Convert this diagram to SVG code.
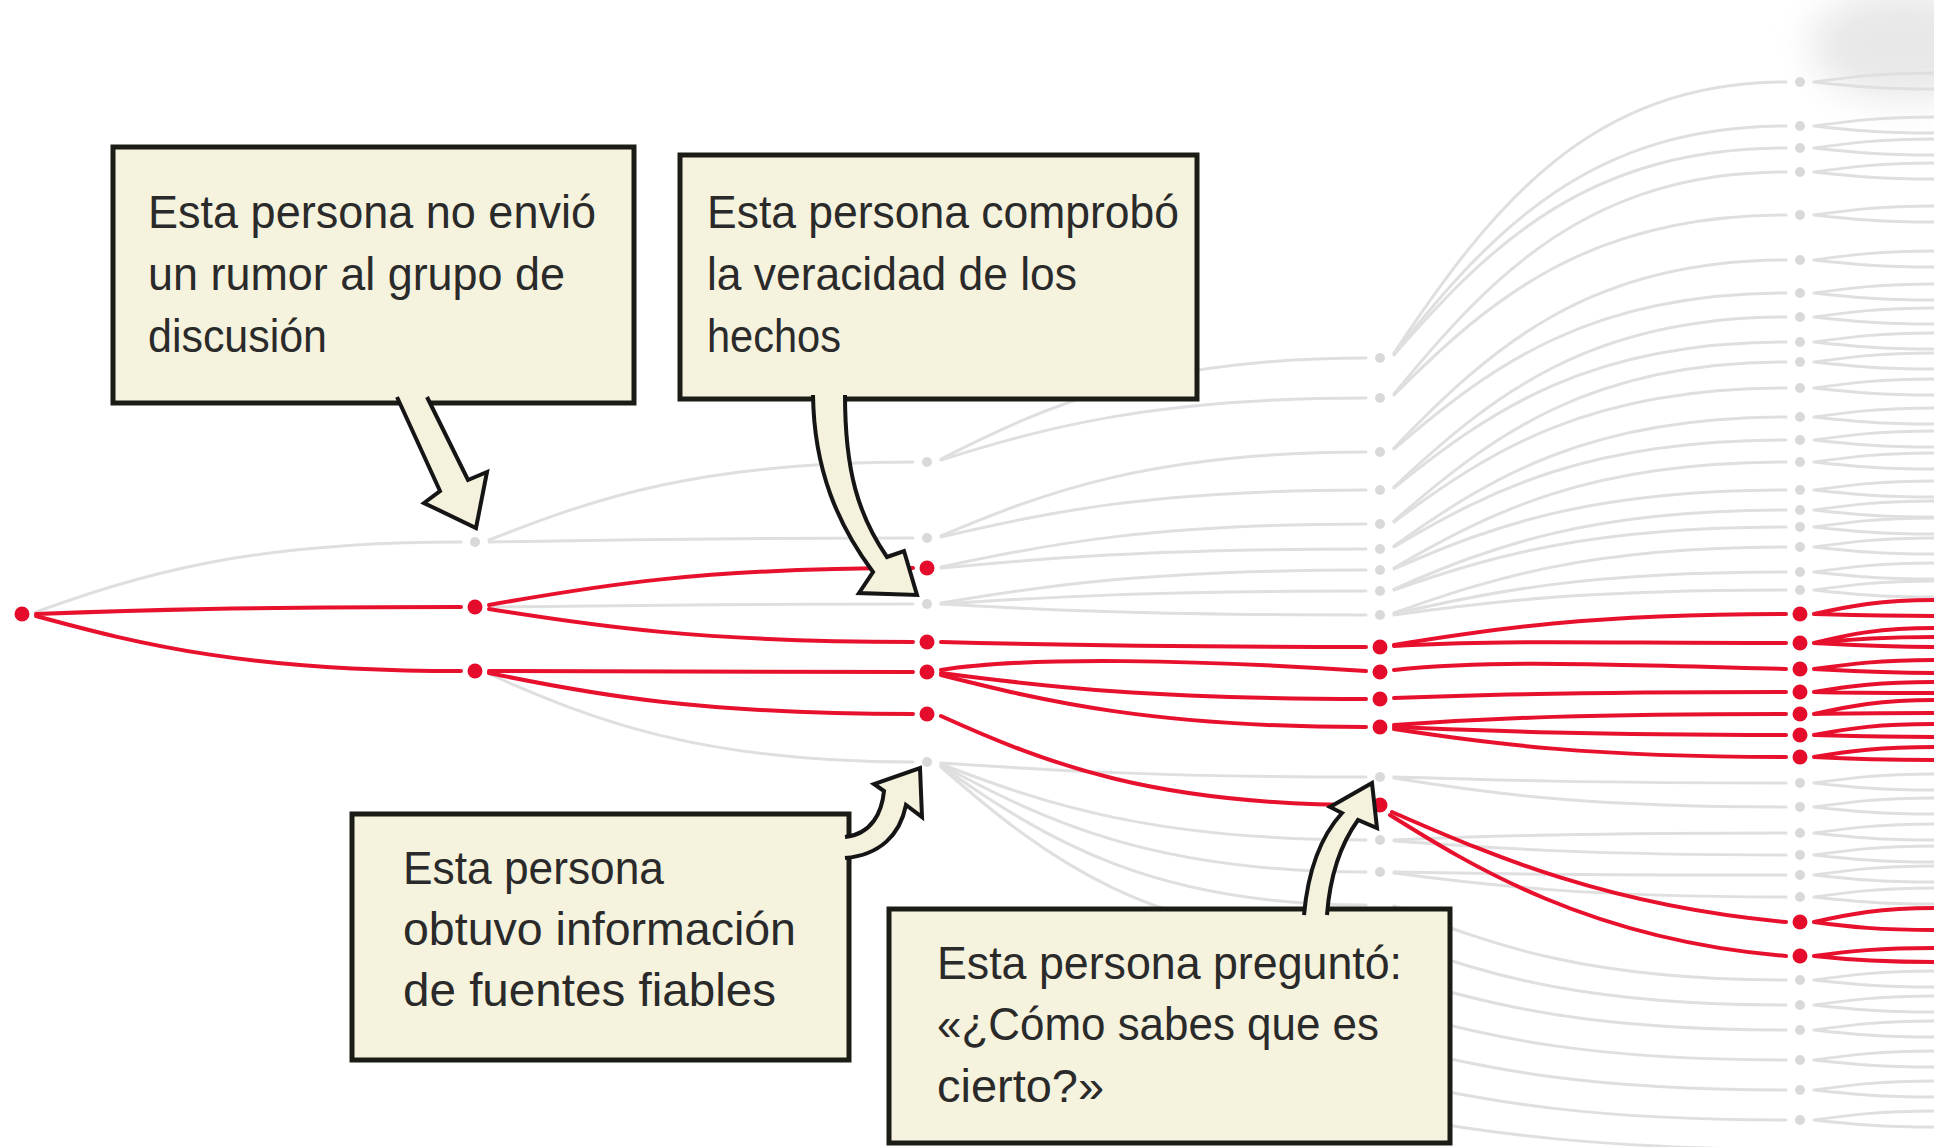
<svg xmlns="http://www.w3.org/2000/svg" width="1934" height="1147" viewBox="0 0 1934 1147">
<style>
.g{fill:none;stroke:#dfdfdf;stroke-width:3;stroke-linecap:round}
.r{fill:none;stroke:#e8112d;stroke-width:4;stroke-linecap:round}
.gd{fill:#d9d9d9}
.rd{fill:#e50b2b}
.box{fill:#f5f2dd;stroke:#1c1c17;stroke-width:5}
.arr{fill:#f4f1dc;stroke:#151515;stroke-width:4;stroke-linejoin:miter}
.t{font-family:"Liberation Sans Narrow","Liberation Sans",Arial,sans-serif;font-size:46px;fill:#2a2a2a}
</style>
<defs>
<filter id="blur" x="-50%" y="-50%" width="200%" height="200%"><feGaussianBlur stdDeviation="18"/></filter>
</defs>
<rect width="1934" height="1147" fill="#ffffff"/>
<ellipse cx="1905" cy="45" rx="95" ry="55" fill="#e8e8e8" filter="url(#blur)"/>
<g id="connectors">
<g id="gray-lines">
<path class="g" d="M36,612 C142,574 248,542 461,542"/>
<path class="g" d="M489,540 C595,498 701,462 913,462"/>
<path class="g" d="M489,542 C595,540 701,538 913,538"/>
<path class="g" d="M489,607 C595,606 701,604 913,604"/>
<path class="g" d="M489,674 C595,721 701,762 913,762"/>
<path class="g" d="M941,459 C1047,405 1154,358 1366,358"/>
<path class="g" d="M941,460 C1047,427 1154,398 1366,398"/>
<path class="g" d="M941,536 C1047,491 1154,452 1366,452"/>
<path class="g" d="M941,537 C1047,512 1154,490 1366,490"/>
<path class="g" d="M941,567 C1047,544 1154,524 1366,524"/>
<path class="g" d="M941,568 C1047,558 1154,549 1366,549"/>
<path class="g" d="M941,603 C1047,585 1154,570 1366,570"/>
<path class="g" d="M941,604 C1047,597 1154,591 1366,591"/>
<path class="g" d="M941,604 C1047,610 1154,615 1366,615"/>
<path class="g" d="M941,763 C1047,770 1154,777 1366,777"/>
<path class="g" d="M941,764 C1047,805 1154,840 1366,840"/>
<path class="g" d="M941,765 C1047,822 1154,872 1366,872"/>
<path class="g" d="M941,766 C1047,841 1154,905 1366,905"/>
<path class="g" d="M941,767 C1047,860 1154,940 1366,940"/>
<path class="g" d="M1394,353 C1492,206 1590,82 1786,82"/>
<path class="g" d="M1394,354 C1492,230 1590,126 1786,126"/>
<path class="g" d="M1394,355 C1492,242 1590,148 1786,148"/>
<path class="g" d="M1394,394 C1492,274 1590,172 1786,172"/>
<path class="g" d="M1394,395 C1492,297 1590,215 1786,215"/>
<path class="g" d="M1394,448 C1492,346 1590,260 1786,260"/>
<path class="g" d="M1394,449 C1492,365 1590,293 1786,293"/>
<path class="g" d="M1394,487 C1492,395 1590,317 1786,317"/>
<path class="g" d="M1394,488 C1492,409 1590,342 1786,342"/>
<path class="g" d="M1394,521 C1492,435 1590,362 1786,362"/>
<path class="g" d="M1394,522 C1492,449 1590,388 1786,388"/>
<path class="g" d="M1394,546 C1492,476 1590,417 1786,417"/>
<path class="g" d="M1394,547 C1492,489 1590,440 1786,440"/>
<path class="g" d="M1394,568 C1492,511 1590,462 1786,462"/>
<path class="g" d="M1394,569 C1492,526 1590,490 1786,490"/>
<path class="g" d="M1394,589 C1492,546 1590,510 1786,510"/>
<path class="g" d="M1394,590 C1492,556 1590,527 1786,527"/>
<path class="g" d="M1394,613 C1492,578 1590,547 1786,547"/>
<path class="g" d="M1394,614 C1492,591 1590,572 1786,572"/>
<path class="g" d="M1394,615 C1492,601 1590,590 1786,590"/>
<path class="g" d="M1394,777 C1492,780 1590,783 1786,783"/>
<path class="g" d="M1394,778 C1492,794 1590,807 1786,807"/>
<path class="g" d="M1394,840 C1492,836 1590,833 1786,833"/>
<path class="g" d="M1394,841 C1492,848 1590,855 1786,855"/>
<path class="g" d="M1394,872 C1492,874 1590,875 1786,875"/>
<path class="g" d="M1394,873 C1492,886 1590,897 1786,897"/>
<path class="g" d="M1394,906 C1492,946 1590,980 1786,980"/>
<path class="g" d="M1394,941 C1492,977 1590,1005 1786,1005"/>
<path class="g" d="M1394,976 C1492,1006 1590,1030 1786,1030"/>
<path class="g" d="M1394,1011 C1492,1038 1590,1060 1786,1060"/>
<path class="g" d="M1394,1046 C1492,1070 1590,1090 1786,1090"/>
<path class="g" d="M1394,1081 C1492,1102 1590,1120 1786,1120"/>
<path class="g" d="M1394,1116 C1492,1134 1590,1147 1786,1150"/>
<path class="g" d="M1814,82C1850,77 1880,73 1934,73M1814,82C1850,86 1880,89 1934,89M1814,126C1850,121 1880,117 1934,117M1814,126C1850,130 1880,133 1934,133M1814,148C1850,143 1880,139 1934,139M1814,148C1850,152 1880,155 1934,155M1814,172C1850,167 1880,163 1934,163M1814,172C1850,176 1880,179 1934,179M1814,215C1850,210 1880,206 1934,206M1814,215C1850,219 1880,222 1934,222M1814,260C1850,255 1880,251 1934,251M1814,260C1850,264 1880,267 1934,267M1814,293C1850,288 1880,284 1934,284M1814,293C1850,297 1880,300 1934,300M1814,317C1850,312 1880,308 1934,308M1814,317C1850,321 1880,324 1934,324M1814,342C1850,337 1880,333 1934,333M1814,342C1850,346 1880,349 1934,349M1814,362C1850,357 1880,353 1934,353M1814,362C1850,366 1880,369 1934,369M1814,388C1850,383 1880,379 1934,379M1814,388C1850,392 1880,395 1934,395M1814,417C1850,412 1880,408 1934,408M1814,417C1850,421 1880,424 1934,424M1814,440C1850,435 1880,431 1934,431M1814,440C1850,444 1880,447 1934,447M1814,462C1850,457 1880,453 1934,453M1814,462C1850,466 1880,469 1934,469M1814,490C1850,485 1880,481 1934,481M1814,490C1850,494 1880,497 1934,497M1814,510C1850,505 1880,501 1934,501M1814,510C1850,514 1880,517 1934,517M1814,527C1850,522 1880,518 1934,518M1814,527C1850,531 1880,534 1934,534M1814,547C1850,542 1880,538 1934,538M1814,547C1850,551 1880,554 1934,554M1814,572C1850,567 1880,563 1934,563M1814,572C1850,576 1880,579 1934,579M1814,590C1850,585 1880,581 1934,581M1814,590C1850,594 1880,597 1934,597M1814,783C1850,778 1880,774 1934,774M1814,783C1850,787 1880,790 1934,790M1814,807C1850,802 1880,798 1934,798M1814,807C1850,811 1880,814 1934,814M1814,833C1850,828 1880,824 1934,824M1814,833C1850,837 1880,840 1934,840M1814,855C1850,850 1880,846 1934,846M1814,855C1850,859 1880,862 1934,862M1814,875C1850,870 1880,866 1934,866M1814,875C1850,879 1880,882 1934,882M1814,897C1850,892 1880,888 1934,888M1814,897C1850,901 1880,904 1934,904M1814,980C1850,975 1880,971 1934,971M1814,980C1850,984 1880,987 1934,987M1814,1005C1850,1000 1880,996 1934,996M1814,1005C1850,1009 1880,1012 1934,1012M1814,1030C1850,1025 1880,1021 1934,1021M1814,1030C1850,1034 1880,1037 1934,1037M1814,1060C1850,1055 1880,1051 1934,1051M1814,1060C1850,1064 1880,1067 1934,1067M1814,1090C1850,1085 1880,1081 1934,1081M1814,1090C1850,1094 1880,1097 1934,1097M1814,1120C1850,1115 1880,1111 1934,1111M1814,1120C1850,1124 1880,1127 1934,1127"/>
</g>
<g id="red-lines">
<path class="r" d="M36,614 C142,610 248,607 461,607"/>
<path class="r" d="M36,616 C142,645 248,671 461,671"/>
<path class="r" d="M489,605 C595,586 701,568 913,568"/>
<path class="r" d="M489,609 C595,626 701,642 913,642"/>
<path class="r" d="M489,671 C595,671 701,672 913,672"/>
<path class="r" d="M489,673 C595,695 701,714 913,714"/>
<path class="r" d="M941,642 C1047,645 1154,647 1366,647"/>
<path class="r" d="M941,670 C1030,656 1200,660 1366,671"/>
<path class="r" d="M941,673 C1047,687 1154,699 1366,699"/>
<path class="r" d="M941,675 C1047,702 1154,727 1366,727"/>
<path class="r" d="M941,716 C1047,764 1154,805 1366,805"/>
<path class="r" d="M1394,645 C1492,629 1590,614 1786,614"/>
<path class="r" d="M1394,646 C1492,640 1590,643 1786,643"/>
<path class="r" d="M1394,670 C1492,660 1590,664 1786,669"/>
<path class="r" d="M1394,698 C1492,694 1590,692 1786,692"/>
<path class="r" d="M1394,725 C1492,718 1590,714 1786,714"/>
<path class="r" d="M1394,727 C1492,731 1590,735 1786,735"/>
<path class="r" d="M1394,729 C1492,744 1590,757 1786,757"/>
<path class="r" d="M1392,812 C1480,850 1600,905 1786,922"/>
<path class="r" d="M1390,815 C1470,865 1590,940 1786,956"/>
<path class="r" d="M1814,614C1850,606 1880,600 1934,600M1814,614C1850,615 1880,616 1934,616M1814,643C1850,634 1880,628 1934,628M1814,643C1850,639 1880,637 1934,637M1814,643C1850,645 1880,647 1934,647M1814,669C1850,664 1880,660 1934,660M1814,669C1850,671 1880,673 1934,673M1814,692C1850,686 1880,682 1934,682M1814,692C1850,693 1880,693 1934,693M1814,714C1850,706 1880,700 1934,700M1814,714C1850,713 1880,713 1934,713M1814,735C1850,728 1880,724 1934,724M1814,735C1850,736 1880,737 1934,737M1814,757C1850,751 1880,747 1934,747M1814,757C1850,759 1880,760 1934,760M1814,922C1850,914 1880,908 1934,908M1814,922C1850,927 1880,930 1934,930M1814,956C1850,951 1880,948 1934,948M1814,956C1850,960 1880,962 1934,962"/>
</g>
</g>
<g id="nodes-gray">
<circle class="gd" cx="475" cy="542" r="5"/>
<circle class="gd" cx="927" cy="462" r="5"/><circle class="gd" cx="927" cy="538" r="5"/><circle class="gd" cx="927" cy="604" r="5"/><circle class="gd" cx="927" cy="762" r="5"/>
<circle class="gd" cx="1380" cy="358" r="5"/><circle class="gd" cx="1380" cy="398" r="5"/><circle class="gd" cx="1380" cy="452" r="5"/><circle class="gd" cx="1380" cy="490" r="5"/><circle class="gd" cx="1380" cy="524" r="5"/><circle class="gd" cx="1380" cy="549" r="5"/><circle class="gd" cx="1380" cy="570" r="5"/><circle class="gd" cx="1380" cy="591" r="5"/><circle class="gd" cx="1380" cy="615" r="5"/><circle class="gd" cx="1380" cy="777" r="5"/><circle class="gd" cx="1380" cy="840" r="5"/><circle class="gd" cx="1380" cy="872" r="5"/>
<circle class="gd" cx="1800" cy="82" r="5"/><circle class="gd" cx="1800" cy="126" r="5"/><circle class="gd" cx="1800" cy="148" r="5"/><circle class="gd" cx="1800" cy="172" r="5"/><circle class="gd" cx="1800" cy="215" r="5"/><circle class="gd" cx="1800" cy="260" r="5"/><circle class="gd" cx="1800" cy="293" r="5"/><circle class="gd" cx="1800" cy="317" r="5"/><circle class="gd" cx="1800" cy="342" r="5"/><circle class="gd" cx="1800" cy="362" r="5"/><circle class="gd" cx="1800" cy="388" r="5"/><circle class="gd" cx="1800" cy="417" r="5"/><circle class="gd" cx="1800" cy="440" r="5"/><circle class="gd" cx="1800" cy="462" r="5"/><circle class="gd" cx="1800" cy="490" r="5"/><circle class="gd" cx="1800" cy="510" r="5"/><circle class="gd" cx="1800" cy="527" r="5"/><circle class="gd" cx="1800" cy="547" r="5"/><circle class="gd" cx="1800" cy="572" r="5"/><circle class="gd" cx="1800" cy="590" r="5"/><circle class="gd" cx="1800" cy="783" r="5"/><circle class="gd" cx="1800" cy="807" r="5"/><circle class="gd" cx="1800" cy="833" r="5"/><circle class="gd" cx="1800" cy="855" r="5"/><circle class="gd" cx="1800" cy="875" r="5"/><circle class="gd" cx="1800" cy="897" r="5"/><circle class="gd" cx="1800" cy="980" r="5"/><circle class="gd" cx="1800" cy="1005" r="5"/><circle class="gd" cx="1800" cy="1030" r="5"/><circle class="gd" cx="1800" cy="1060" r="5"/><circle class="gd" cx="1800" cy="1090" r="5"/><circle class="gd" cx="1800" cy="1120" r="5"/>
</g>
<g id="nodes-red">
<circle class="rd" cx="22" cy="614" r="7.5"/>
<circle class="rd" cx="475" cy="607" r="7.5"/><circle class="rd" cx="475" cy="671" r="7.5"/>
<circle class="rd" cx="927" cy="568" r="7.5"/><circle class="rd" cx="927" cy="642" r="7.5"/><circle class="rd" cx="927" cy="672" r="7.5"/><circle class="rd" cx="927" cy="714" r="7.5"/>
<circle class="rd" cx="1380" cy="647" r="7.5"/><circle class="rd" cx="1380" cy="672" r="7.5"/><circle class="rd" cx="1380" cy="699" r="7.5"/><circle class="rd" cx="1380" cy="727" r="7.5"/><circle class="rd" cx="1380" cy="805" r="7.5"/>
<circle class="rd" cx="1800" cy="614" r="7.5"/><circle class="rd" cx="1800" cy="643" r="7.5"/><circle class="rd" cx="1800" cy="669" r="7.5"/><circle class="rd" cx="1800" cy="692" r="7.5"/><circle class="rd" cx="1800" cy="714" r="7.5"/><circle class="rd" cx="1800" cy="735" r="7.5"/><circle class="rd" cx="1800" cy="757" r="7.5"/><circle class="rd" cx="1800" cy="922" r="7.5"/><circle class="rd" cx="1800" cy="956" r="7.5"/>
</g>
<g id="note-no-envio">
<rect class="box" x="113" y="147" width="521" height="256"/>
<path class="arr" d="M397,397 L440,491 L424,503 L476,528 L487,472 L468,480 L427,397"/>
<text class="t" x="148" y="228" textLength="448" lengthAdjust="spacingAndGlyphs">Esta persona no envió</text>
<text class="t" x="148" y="290" textLength="417" lengthAdjust="spacingAndGlyphs">un rumor al grupo de</text>
<text class="t" x="148" y="352" textLength="179" lengthAdjust="spacingAndGlyphs">discusión</text>
</g>
<g id="note-comprobo">
<rect class="box" x="680" y="155" width="517" height="244"/>
<path class="arr" d="M813,395 C814,470 838,525 873,572 L859,593 L917,595 L904,551 L887,557 C858,515 845,470 845,395"/>
<text class="t" x="707" y="228" textLength="472" lengthAdjust="spacingAndGlyphs">Esta persona comprobó</text>
<text class="t" x="707" y="290" textLength="370" lengthAdjust="spacingAndGlyphs">la veracidad de los</text>
<text class="t" x="707" y="352" textLength="134" lengthAdjust="spacingAndGlyphs">hechos</text>
</g>
<g id="note-fuentes">
<rect class="box" x="352" y="814" width="497" height="246"/>
<path class="arr" d="M845,837 C872,834 882,812 884,791 L874,784 L920,768 L922,817 L906,805 C900,835 880,855 845,858"/>
<text class="t" x="403" y="884" textLength="261" lengthAdjust="spacingAndGlyphs">Esta persona</text>
<text class="t" x="403" y="945" textLength="393" lengthAdjust="spacingAndGlyphs">obtuvo información</text>
<text class="t" x="403" y="1006" textLength="373" lengthAdjust="spacingAndGlyphs">de fuentes fiables</text>
</g>
<g id="note-pregunto">
<rect class="box" x="889" y="909" width="561" height="234"/>
<path class="arr" d="M1304,915 C1308,870 1322,835 1342,813 L1330,807 L1372,783 L1377,828 L1358,820 C1340,845 1330,875 1327,915"/>
<text class="t" x="937" y="979" textLength="465" lengthAdjust="spacingAndGlyphs">Esta persona preguntó:</text>
<text class="t" x="937" y="1040" textLength="442" lengthAdjust="spacingAndGlyphs">«¿Cómo sabes que es</text>
<text class="t" x="937" y="1102" textLength="167" lengthAdjust="spacingAndGlyphs">cierto?»</text>
</g>
</svg>
